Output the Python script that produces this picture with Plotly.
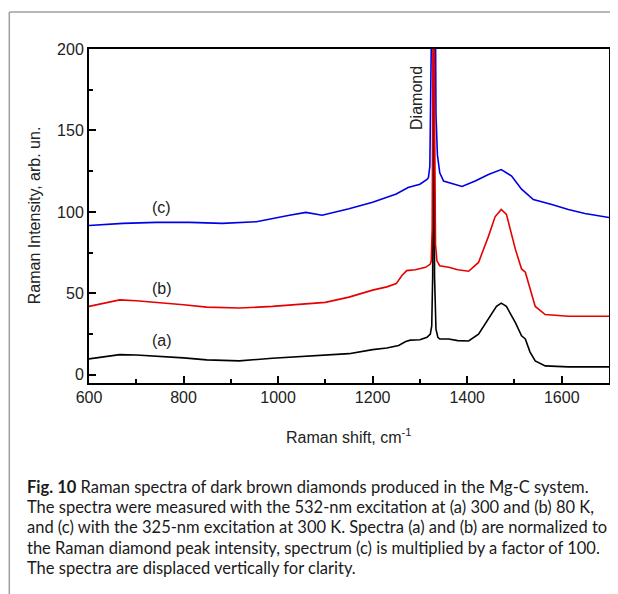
import plotly.graph_objects as go

# Spectrum (a) - black
x_a = [600, 630, 665, 700, 743, 800, 849, 918, 988, 1059, 1100, 1150, 1200, 1230, 1255, 1270, 1280,
       1300, 1315, 1322, 1325, 1327, 1329, 1331, 1334, 1338, 1342, 1361, 1380, 1403, 1424, 1445, 1462,
       1472, 1483, 1502, 1515, 1523, 1533, 1544, 1565, 1614, 1700]
y_a = [9.8, 11.2, 12.4, 12.2, 11.6, 10.4, 9.2, 8.6, 10.2, 11.6, 12, 13, 15.5, 16.5, 18, 20.5, 21.3,
       21.5, 23, 25, 30, 60, 220, 60, 28, 23, 22, 22, 21, 20.8, 25, 34, 42,
       44, 42, 32, 24, 22, 14, 8.6, 5.5, 4.9, 4.9]

# Spectrum (b) - red
x_b = [600, 630, 665, 700, 743, 800, 849, 918, 988, 1059, 1100, 1150, 1200, 1230, 1250, 1262, 1272,
       1290, 1312, 1322, 1324, 1326, 1327, 1329, 1331, 1333, 1336, 1342, 1361, 1380, 1403, 1424, 1445,
       1459, 1472, 1483, 1502, 1515, 1523, 1533, 1544, 1565, 1614, 1700]
y_b = [42, 44, 46, 45.5, 44.6, 43, 41.6, 41, 42, 43.4, 44.5, 47.7, 52, 54, 56, 61, 64,
       64.5, 66, 68, 70, 90, 160, 300, 160, 80, 70, 67, 66, 64.5, 63.6, 69, 85,
       97, 101.5, 98.5, 77, 65, 63, 52.6, 42, 37, 36, 36]

# Spectrum (c) - blue
x_c = [600, 672, 743, 813, 882, 954, 1024, 1059, 1093, 1150, 1200, 1250, 1275, 1300, 1315, 1318,
       1321, 1323, 1324, 1328, 1333, 1334, 1337, 1342, 1350, 1361, 1389, 1417, 1445, 1472, 1494,
       1515, 1540, 1579, 1614, 1649, 1700]
y_c = [91.7, 93, 93.6, 93.6, 93, 94, 98, 99.7, 98, 102, 106, 111, 115, 117, 120, 121,
       128, 160, 210, 300, 210, 160, 135, 124, 119, 118, 115.6, 119, 123, 126, 122,
       114, 107.6, 104.6, 101.5, 99, 96.6]

x_ticks = [600, 800, 1000, 1200, 1400, 1600]
y_ticks = [0, 50, 100, 150, 200]

caption_lines = [
    "<b>Fig. 10</b> Raman spectra of dark brown diamonds produced in the Mg-C system.",
    "The spectra were measured with the 532-nm excitation at (a) 300 and (b) 80 K,",
    "and (c) with the 325-nm excitation at 300 K. Spectra (a) and (b) are normalized to",
    "the Raman diamond peak intensity, spectrum (c) is multiplied by a factor of 100.",
    "The spectra are displaced vertically for clarity.",
]

fig = go.Figure()
fig.add_trace(go.Scatter(x=x_c, y=y_c, mode="lines", line=dict(color="#0000e6", width=1.6), showlegend=False))
fig.add_trace(go.Scatter(x=x_a, y=y_a, mode="lines", line=dict(color="#000000", width=1.6), showlegend=False))
fig.add_trace(go.Scatter(x=x_b, y=y_b, mode="lines", line=dict(color="#e60000", width=1.6), showlegend=False))

FAM = "Liberation Sans"
axis_font = dict(family=FAM, size=16, color="#222")

# page body has an 8px default margin; the figure is sized/offset to compensate
fig.update_layout(
    width=610, height=586,
    margin=dict(l=81, r=7, t=41, b=211),
    paper_bgcolor="white", plot_bgcolor="white",
    font=axis_font,
    xaxis=dict(range=[600, 1700], tickvals=x_ticks, ticks="inside", ticklen=7, tickwidth=2,
               tickcolor="black", showline=True, linecolor="black", linewidth=2, mirror=True,
               showgrid=False, zeroline=False, tickfont=axis_font, ticklabelstandoff=-1,
               minor=dict(dtick=100, ticks="inside", ticklen=4, tickwidth=2, tickcolor="black")),
    yaxis=dict(range=[-5, 200], tickvals=y_ticks, ticks="inside", ticklen=7, tickwidth=2,
               tickcolor="black", showline=True, linecolor="black", linewidth=2, mirror=True,
               showgrid=False, zeroline=False, tickfont=axis_font,
               minor=dict(tickvals=[25, 75, 125, 175], ticks="inside", ticklen=4, tickwidth=2, tickcolor="black")),
)

# series labels
for txt, yy in [("(c)", 102.8), ("(b)", 53), ("(a)", 20.8)]:
    fig.add_annotation(x=754, y=yy, text=txt, showarrow=False, xref="x", yref="y",
                       font=dict(family=FAM, size=16, color="#222"))
fig.add_annotation(x=1294, y=170, text="Diamond", textangle=-90, showarrow=False, xref="x", yref="y",
                   xanchor="center", yanchor="middle",
                   font=dict(family=FAM, size=16, color="#222"))

# axis titles
fig.add_annotation(x=(35 - 89) / 522, y=0.503, xref="paper", yref="paper", text="Raman Intensity, arb. un.",
                   textangle=-90, showarrow=False, xanchor="center", yanchor="middle",
                   font=dict(family=FAM, size=16, color="#222"))
fig.add_annotation(x=0.5, y=(383 - 436) / 334, xref="paper", yref="paper", text="Raman shift, cm<sup>-1</sup>",
                   showarrow=False, xanchor="center", yanchor="middle",
                   font=dict(family=FAM, size=16, color="#222"))

# caption
cap_y = [487, 507, 527, 548, 568]
for line, py in zip(caption_lines, cap_y):
    fig.add_annotation(x=(25 - 89) / 522, y=(383 - py) / 334, xref="paper", yref="paper",
                       xanchor="left", yanchor="middle", text=line, showarrow=False, align="left",
                       font=dict(family="Lato", size=16.5, color="#1a1a1a"))

# outer gray frame (top and left)
fig.add_shape(type="line", xref="paper", yref="paper", x0=(9 - 89) / 522, x1=(620 - 89) / 522,
              y0=(383 - 12) / 334, y1=(383 - 12) / 334, line=dict(color="#a0a0a0", width=1.5))
fig.add_shape(type="line", xref="paper", yref="paper", x0=(9 - 89) / 522, x1=(9 - 89) / 522,
              y0=(383 - 12) / 334, y1=(383 - 600) / 334, line=dict(color="#a0a0a0", width=1.5))

fig.write_html("out.html")
